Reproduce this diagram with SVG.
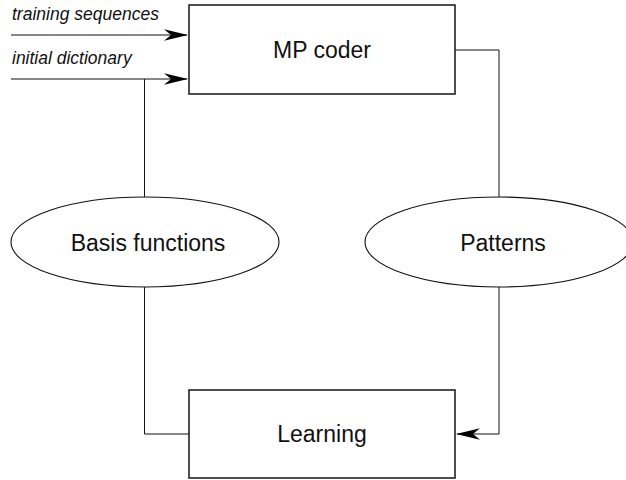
<svg xmlns="http://www.w3.org/2000/svg" width="626" height="480" viewBox="0 0 626 480">
  <style>
    .box { fill: #fff; stroke: #222; stroke-width: 1.6; }
    .oval { fill: #fff; stroke: #111; stroke-width: 1.1; }
    .label { font-family: "Liberation Sans", Arial, sans-serif; font-size: 23px; fill: #111; text-anchor: middle; }
    .input { font-family: "Liberation Sans", Arial, sans-serif; font-size: 17.5px; font-style: italic; fill: #111; }
    .wire { fill: none; stroke: #111; stroke-width: 1; }
  </style>
  <defs>
    <marker id="head" viewBox="0 0 24 12" refX="23" refY="6" markerWidth="24" markerHeight="12" markerUnits="userSpaceOnUse" orient="auto">
      <path d="M0,0.3 L24,6 L0,11.7 L7,6 Z" fill="#000"/>
    </marker>
  </defs>

  <g id="connectors">
    <line class="wire" x1="11" y1="35" x2="187" y2="35" marker-end="url(#head)"/>
    <line class="wire" x1="11" y1="79" x2="187" y2="79" marker-end="url(#head)"/>
    <line class="wire" x1="144.5" y1="79" x2="144.5" y2="197"/>
    <polyline class="wire" points="144.5,287 144.5,434 189,434"/>
    <polyline class="wire" points="455,50 499,50 499,197"/>
    <polyline class="wire" points="499,287 499,434 457,434" marker-end="url(#head)"/>
  </g>

  <g id="input-labels">
    <text class="input" x="12" y="20">training sequences</text>
    <text class="input" x="12" y="64">initial dictionary</text>
  </g>

  <g id="mp-coder">
    <rect class="box" x="189" y="5" width="266" height="89"/>
    <text class="label" x="322" y="58">MP coder</text>
  </g>

  <g id="basis-functions">
    <ellipse class="oval" cx="145" cy="242" rx="134" ry="45"/>
    <text class="label" x="148" y="251">Basis functions</text>
  </g>

  <g id="patterns">
    <ellipse class="oval" cx="499" cy="242" rx="134" ry="45"/>
    <text class="label" x="503" y="251">Patterns</text>
  </g>

  <g id="learning">
    <rect class="box" x="189" y="390" width="266" height="88"/>
    <text class="label" x="322" y="442">Learning</text>
  </g>
</svg>
